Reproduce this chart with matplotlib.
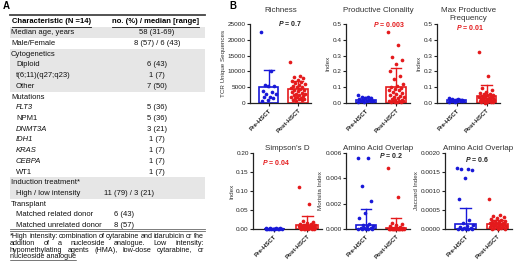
import matplotlib
matplotlib.use('Agg')
import matplotlib.pyplot as plt
from matplotlib.patches import Rectangle
import numpy as np

plt.rcParams['font.family'] = ['Liberation Sans', 'DejaVu Sans']
plt.rcParams['mathtext.fontset'] = 'custom'
plt.rcParams['mathtext.it'] = 'Liberation Sans:bold:italic'
plt.rcParams['mathtext.rm'] = 'Liberation Sans:bold'

W, H = 520, 268
BLUE = '#1818d8'
RED = '#e41a1c'
INK = '#222222'

# ---------------- panel A: table ----------------
HEADER = ['Characteristic (N =14)', 'no. (%) / median [range]']
ROW_LABELS = ['Median age, years', 'Male/Female', 'Cytogenetics', 'Diploid',
              't(6;11)(q27;q23)', 'Other', 'Mutations', 'FLT3', 'NPM1', 'DNMT3A',
              'IDH1', 'KRAS', 'CEBPA', 'WT1', 'Induction treatment*',
              'High / low intensity', 'Transplant', 'Matched related donor',
              'Matched unrelated donor']
ROW_VALUES = ['58 (31-69)', '8 (57) / 6 (43)', '', '6 (43)', '1 (7)', '7 (50)', '',
              '5 (36)', '5 (36)', '3 (21)', '1 (7)', '1 (7)', '1 (7)', '1 (7)', '',
              '11 (79) / 3 (21)', '', '6 (43)', '8 (57)']
ROW_INDENT = [0, 0, 0, 1, 1, 1, 0, 1, 1, 1, 1, 1, 1, 1, 0, 1, 0, 1, 1]
ROW_ITALIC = [False]*7 + [True, False, True, True, True, True, False] + [False]*5
ROW_SHADED = [True, False, True, True, True, True] + [False]*8 + [True, True, False, False, False]
FOOTNOTE = ['*High intensity: combination of cytarabine and idarubicin or the',
            'addition of a nucleoside analogue. Low intensity:',
            'hypomethylating agents (HMA), low-dose cytarabine, or',
            'nucleoside analogue']

# ---------------- panel B: data ----------------
GROUPS = ['Pre-HSCT', 'Post-HSCT']
TITLES = ['Richness', 'Productive Clonality', 'Max Productive\nFrequency',
          "Simpson's D", 'Amino Acid Overlap', 'Amino Acid Overlap']
YLABELS = ['TCR Unique Sequences', 'Index', 'Index', 'Index',
           'Morisita Index', 'Jaccard Index']
P_VALUES = ['0.7', '0.003', '0.01', '0.04', '0.2', '0.6']
P_SIG = [False, True, True, True, False, False]

richness_pre = [22500, 10000, 5700, 5500, 5300, 3700, 3500, 3000, 2700,
                2000, 2000, 1700, 900, 700]
richness_post = [13100, 8500, 8200, 7800, 7200, 7000, 6600, 6300, 6000, 5800,
                 5500, 5200, 5000, 4800, 4500, 4200, 4000, 3700, 3500, 3300,
                 3000, 2800, 2600, 2400, 2200, 2000, 1900, 1700, 1600, 1400,
                 1200, 1000, 900, 700]
clon_pre = [0.05, 0.04, 0.035, 0.03, 0.03, 0.025, 0.02, 0.02, 0.015, 0.015,
            0.01, 0.01, 0.008, 0.005]
clon_post = [0.45, 0.37, 0.29, 0.27, 0.245, 0.2, 0.17, 0.15, 0.12, 0.11, 0.1,
             0.095, 0.09, 0.085, 0.08, 0.07, 0.065, 0.06, 0.05, 0.045, 0.04,
             0.035, 0.03, 0.025, 0.02, 0.02, 0.015, 0.015, 0.01, 0.01, 0.008,
             0.006, 0.005, 0.004]
maxf_pre = [0.03, 0.028, 0.025, 0.022, 0.02, 0.02, 0.018, 0.015, 0.015, 0.012,
            0.01, 0.01, 0.008, 0.006]
maxf_post = [0.325, 0.17, 0.095, 0.08, 0.07, 0.065, 0.06, 0.055, 0.05, 0.048,
             0.045, 0.04, 0.04, 0.035, 0.033, 0.03, 0.03, 0.028, 0.025, 0.025,
             0.022, 0.02, 0.02, 0.018, 0.015, 0.015, 0.012, 0.01, 0.01, 0.008,
             0.006, 0.005, 0.004, 0.003]
simp_pre = [0.002, 0.0018, 0.0015, 0.0015, 0.0012, 0.001, 0.001, 0.0009,
            0.0008, 0.0007, 0.0006, 0.0005, 0.0004, 0.0003]
simp_post = [0.11, 0.065, 0.02, 0.018, 0.015, 0.013, 0.012, 0.011, 0.01, 0.009,
             0.009, 0.008, 0.007, 0.007, 0.006, 0.006, 0.005, 0.005, 0.004,
             0.004, 0.003, 0.003, 0.003, 0.002, 0.002, 0.002, 0.0015, 0.0015,
             0.001, 0.001, 0.0008, 0.0006, 0.0005, 0.0003]
mori_pre = [0.0056, 0.0056, 0.0034, 0.0022, 0.0013, 0.0009, 0.0004, 0.0003,
            0.0002, 0.0002, 0.0001, 0.0001, 0.00005, 0.0, 0.0, 0.0, 0.0, 0.0]
mori_post = [0.0048, 0.0025, 0.0005, 0.0004, 0.0003, 0.0002, 0.00015, 0.0001,
             0.0001, 0.00008, 0.00006, 0.00005, 0.00004, 0.00003, 0.00002,
             0.00001, 0.0, 0.0, 0.0, 0.0, 0.0, 0.0, 0.0, 0.0, 0.0, 0.0]
jacc_pre = [0.0016, 0.00159, 0.00158, 0.00155, 0.00133, 0.00078, 0.00023,
            0.00015, 0.0001, 0.00008, 0.00005, 0.00003, 0.00002, 0.00001,
            0.0, 0.0, 0.0, 0.0]
jacc_post = [0.00078, 0.00036, 0.00033, 0.00031, 0.00028, 0.00026, 0.00024,
             0.00022, 0.0002, 0.00019, 0.00018, 0.00017, 0.00016, 0.00015,
             0.00014, 0.00013, 0.00012, 0.00012, 0.00011, 0.0001, 0.0001,
             0.00009, 0.00008, 0.00007, 0.00006, 0.00005, 0.00004, 0.00003,
             0.00002, 0.00001, 0.0, 0.0]

POINTS = [(richness_pre, richness_post), (clon_pre, clon_post),
          (maxf_pre, maxf_post), (simp_pre, simp_post),
          (mori_pre, mori_post), (jacc_pre, jacc_post)]
BAR_MEAN = [(5000, 4300), (0.022, 0.1), (0.018, 0.045), (0.001, 0.01),
            (0.0003, 0.0001), (0.00013, 0.00012)]
BAR_SD = [(5500, 2800), (0.013, 0.12), (0.007, 0.07), (0.0005, 0.025),
          (0.00125, 0.0008), (0.00042, 0.00013)]
YTICKS = [[0, 5000, 10000, 15000, 20000, 25000],
          [0.0, 0.1, 0.2, 0.3, 0.4, 0.5],
          [0.0, 0.1, 0.2, 0.3, 0.4, 0.5],
          [0.0, 0.05, 0.10, 0.15, 0.20],
          [0.0, 0.002, 0.004, 0.006],
          [0.0, 0.0005, 0.0010, 0.0015, 0.0020]]
YFMT = ['{:.0f}', '{:.1f}', '{:.1f}', '{:.2f}', '{:.3f}', '{:.4f}']

# layout (pixels): x0, x1, ytop, ybot
AX_BOX = [(250, 311, 24, 103), (346, 410, 24, 103), (437, 500, 24, 103),
          (253, 322, 153, 229), (346, 410, 153, 229), (445, 512, 153, 229)]
TITLE_PAD = [9, 9, 3, 2, 2, 2]
P_POS = [(0.66, 1.0), (0.67, 0.99), (0.52, 0.96), (0.33, 0.88),
         (0.70, 0.97), (0.48, 0.92)]

fig = plt.figure(figsize=(W/100, H/100), dpi=100)
bg = fig.add_axes([0, 0, 1, 1])
bg.set_xlim(0, W); bg.set_ylim(H, 0); bg.axis('off')

bg.text(3, 6, 'A', fontsize=7, fontweight='bold', va='center')
bg.text(229, 6, 'B', fontsize=7, fontweight='bold', va='center')

# table
TX0, TX1 = 10, 205
row_h = 10.72
y0 = 32.7
for i, shaded in enumerate(ROW_SHADED):
    if shaded:
        yc = y0 + i*row_h
        bg.add_patch(Rectangle((TX0, yc - row_h/2), TX1 - TX0, row_h,
                               facecolor='#e6e6e6', edgecolor='none'))
bg.plot([TX0, TX1], [15, 15], color='#444444', lw=1.3)
bg.plot([TX0, TX1], [229.2, 229.2], color='#666666', lw=0.6)
bg.plot([TX0, TX1], [231.4, 231.4], color='#666666', lw=0.6)

h1 = bg.text(12, 21.5, HEADER[0], fontsize=5.5, fontweight='bold', va='center')
h2 = bg.text(112, 21.5, HEADER[1], fontsize=5.5, fontweight='bold', va='center')

for i, lab in enumerate(ROW_LABELS):
    yc = y0 + i*row_h
    bg.text(11 + 5*ROW_INDENT[i], yc, lab, fontsize=5.5, va='center',
            fontstyle='italic' if ROW_ITALIC[i] else 'normal', color='#111111')
    if ROW_VALUES[i]:
        vx = 157 if i < 15 else (129 if i == 15 else 124)
        bg.text(vx, yc, ROW_VALUES[i], fontsize=5.5, va='center', ha='center',
                color='#111111')

fig.canvas.draw()
rend = fig.canvas.get_renderer()
for t in (h1, h2):
    bb = t.get_window_extent(rend)
    bg.plot([bb.x0, bb.x1], [26.5, 26.5], color='#111111', lw=0.6)

# footnote, justified
FOOT_Y = [237, 243.6, 250.2, 256.8]
FOOT_FS = 5.2
for k, line in enumerate(FOOTNOTE):
    if k < len(FOOTNOTE) - 1:
        words = line.split()
        txts = [bg.text(0, FOOT_Y[k], w, fontsize=FOOT_FS, va='center', color='#111111')
                for w in words]
        wids = [t.get_window_extent(rend).width for t in txts]
        gap = (204 - 10 - sum(wids)) / (len(words) - 1)
        x = 10
        for t, w in zip(txts, wids):
            t.set_x(x)
            x += w + gap
    else:
        t = bg.text(10, FOOT_Y[k], line, fontsize=FOOT_FS, va='center', color='#111111')
        bb = t.get_window_extent(rend)
        bg.plot([bb.x0, bb.x1], [FOOT_Y[k] + 3.2, FOOT_Y[k] + 3.2], color='#111111', lw=0.4)


def jitter(n, width=0.52):
    return np.array([((i * 0.618) % 1.0 - 0.5) * width for i in range(n)])


for p in range(6):
    x0, x1, yt, yb = AX_BOX[p]
    ax = fig.add_axes([x0/W, 1 - yb/H, (x1 - x0)/W, (yb - yt)/H])
    ax.set_xlim(-0.65, 1.45)
    ax.set_ylim(0, YTICKS[p][-1])
    for k, col in enumerate([BLUE, RED]):
        m, sd = BAR_MEAN[p][k], BAR_SD[p][k]
        ax.bar(k, m, width=0.66, facecolor='white', edgecolor=col, lw=1.2, zorder=1)
        ax.plot([k, k], [m, m + sd], color=col, lw=1.0, zorder=1)
        ax.plot([k - 0.17, k + 0.17], [m + sd, m + sd], color=col, lw=1.0, zorder=1)
        vals = np.array(POINTS[p][k])
        ax.scatter(k + jitter(len(vals)), vals, s=7, color=col, lw=0,
                   zorder=3, clip_on=False)
    for s in ('top', 'right'):
        ax.spines[s].set_visible(False)
    for s in ('left', 'bottom'):
        ax.spines[s].set_linewidth(0.9)
        ax.spines[s].set_color(INK)
    ax.set_yticks(YTICKS[p])
    ax.set_yticklabels([YFMT[p].format(v) for v in YTICKS[p]])
    ax.set_xticks([0, 1])
    ax.set_xticklabels(GROUPS, rotation=45, ha='right', rotation_mode='anchor',
                       fontweight='bold')
    ax.tick_params(axis='y', length=2, width=0.8, labelsize=4.6, pad=1,
                   color=INK, labelcolor=INK)
    ax.tick_params(axis='x', length=2, width=0.8, labelsize=4.4, pad=1.5,
                   color=INK, labelcolor=INK)
    ax.set_ylabel(YLABELS[p], fontsize=4.5, labelpad=1.5, color='#333333')
    ax.set_title(TITLES[p], fontsize=5.8, pad=TITLE_PAD[p], color='#333333',
                 linespacing=1.25)
    px, py = P_POS[p]
    ax.text(px, py, r'$P$ = ' + P_VALUES[p], transform=ax.transAxes,
            ha='center', va='center', fontsize=5, fontweight='bold',
            color=RED if P_SIG[p] else INK)

fig.savefig('out.png', dpi=100)
